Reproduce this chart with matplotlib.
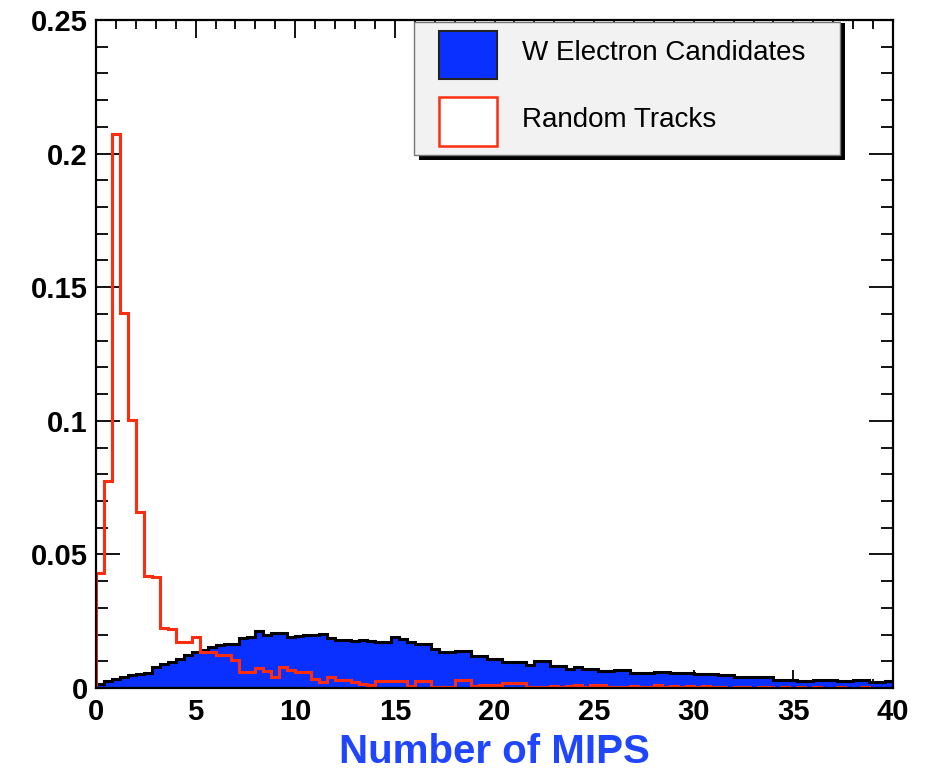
import numpy as np
import matplotlib
matplotlib.use("Agg")
import matplotlib.pyplot as plt
from matplotlib.patches import Rectangle
from matplotlib.ticker import MultipleLocator, FuncFormatter

plt.rcParams['font.family'] = ['Liberation Sans', 'DejaVu Sans']

# histogram binning: 100 bins of 0.4 MIPS from 0 to 40
bin_edges = np.linspace(0, 40, 101)

# W electron candidates (normalised counts per bin)
w_electrons = [
    0.0016, 0.0025, 0.0033, 0.0042, 0.0048, 0.0052, 0.0055, 0.0078, 0.0088, 0.0098,
    0.0108, 0.0122, 0.0136, 0.0142, 0.0152, 0.0160, 0.0164, 0.0166, 0.0188, 0.0192,
    0.0215, 0.0198, 0.0207, 0.0207, 0.0192, 0.0194, 0.0199, 0.0199, 0.0203, 0.0188,
    0.0180, 0.0178, 0.0175, 0.0178, 0.0175, 0.0174, 0.0174, 0.0192, 0.0183, 0.0174,
    0.0165, 0.0165, 0.0145, 0.0136, 0.0134, 0.0139, 0.0139, 0.0118, 0.0118, 0.0108,
    0.0108, 0.0099, 0.0099, 0.0096, 0.0086, 0.0101, 0.0101, 0.0083, 0.0083, 0.0070,
    0.0078, 0.0070, 0.0070, 0.0065, 0.0065, 0.0068, 0.0068, 0.0058, 0.0058, 0.0058,
    0.0061, 0.0061, 0.0055, 0.0058, 0.0058, 0.0052, 0.0052, 0.0052, 0.0049, 0.0049,
    0.0040, 0.0040, 0.0040, 0.0042, 0.0042, 0.0030, 0.0030, 0.0030, 0.0027, 0.0027,
    0.0030, 0.0030, 0.0029, 0.0026, 0.0026, 0.0030, 0.0030, 0.0022, 0.0024, 0.0027,
]

# random tracks (normalised counts per bin)
random_tracks = [
    0.0432, 0.0776, 0.2072, 0.1403, 0.1004, 0.0660, 0.0420, 0.0415, 0.0224, 0.0222,
    0.0174, 0.0172, 0.0192, 0.0136, 0.0134, 0.0124, 0.0122, 0.0105, 0.0061, 0.0061,
    0.0074, 0.0065, 0.0040, 0.0078, 0.0068, 0.0061, 0.0061, 0.0033, 0.0024, 0.0043,
    0.0030, 0.0030, 0.0024, 0.0014, 0.0010, 0.0028, 0.0028, 0.0028, 0.0027, 0.0008,
    0.0028, 0.0028, 0.0003, 0.0003, 0.0003, 0.0030, 0.0030, 0.0006, 0.0010, 0.0010,
    0.0010, 0.0017, 0.0017, 0.0017, 0.0003, 0.0003, 0.0003, 0.0008, 0.0003, 0.0008,
    0.0012, 0.0003, 0.0010, 0.0012, 0.0003, 0.0003, 0.0002, 0.0008, 0.0003, 0.0002,
    0.0010, 0.0003, 0.0008, 0.0002, 0.0008, 0.0002, 0.0006, 0.0002, 0.0002, 0.0000,
    0.0005, 0.0002, 0.0000, 0.0002, 0.0004, 0.0000, 0.0002, 0.0000, 0.0003, 0.0000,
    0.0002, 0.0000, 0.0000, 0.0003, 0.0000, 0.0000, 0.0002, 0.0000, 0.0000, 0.0000,
]

legend_labels = ['W Electron Candidates', 'Random Tracks']

blue = '#0a30ff'
red = '#ff2d10'

fig = plt.figure(figsize=(9.4, 7.77), dpi=100)
ax = fig.add_axes([96 / 940, 89 / 777, 797 / 940, 668 / 777])

ax.stairs(w_electrons, bin_edges, fill=True, color=blue, zorder=2)
ax.stairs(w_electrons, bin_edges, color='black', linewidth=2.2, zorder=3)
ax.stairs(random_tracks, bin_edges, color=red, linewidth=2.2, zorder=4)

ax.set_xlim(0, 40)
ax.set_ylim(0, 0.25)

ax.xaxis.set_major_locator(MultipleLocator(5))
ax.xaxis.set_minor_locator(MultipleLocator(1))
ax.yaxis.set_major_locator(MultipleLocator(0.05))
ax.yaxis.set_minor_locator(MultipleLocator(0.01))
ax.yaxis.set_major_formatter(FuncFormatter(lambda v, p: f'{v:g}'))

ax.tick_params(which='both', direction='in', top=True, right=True,
               width=1.3, colors='black')
ax.tick_params(axis='x', which='major', length=13, pad=7)
ax.tick_params(axis='x', which='minor', length=6.5)
ax.tick_params(axis='y', which='major', length=17, pad=6)
ax.tick_params(axis='y', which='minor', length=8.5)
for lbl in ax.get_xticklabels() + ax.get_yticklabels():
    lbl.set_fontsize(21)
    lbl.set_fontweight('bold')

for sp in ax.spines.values():
    sp.set_linewidth(1.6)
    sp.set_zorder(6)

ax.set_xlabel('Number of MIPS', fontsize=29, fontweight='bold',
              color='#1f45ff', labelpad=5)

# legend box with drop shadow, drawn in axes fraction
tr = ax.transAxes
ax.add_patch(Rectangle((0.405, 0.790), 0.535, 0.205, transform=tr,
                       facecolor='black', edgecolor='none', zorder=7, clip_on=False))
ax.add_patch(Rectangle((0.399, 0.798), 0.535, 0.199, transform=tr,
                       facecolor='#f2f2f2', edgecolor='#777777', linewidth=1.0,
                       zorder=8, clip_on=False))
ax.add_patch(Rectangle((0.430, 0.912), 0.073, 0.072, transform=tr,
                       facecolor=blue, edgecolor='#222222', linewidth=1.5, zorder=9))
ax.add_patch(Rectangle((0.430, 0.812), 0.073, 0.072, transform=tr,
                       facecolor='white', edgecolor=red, linewidth=1.8, zorder=9))
ax.text(0.5345, 0.950, legend_labels[0], transform=tr, fontsize=20,
        va='center', ha='left', zorder=10)
ax.text(0.5345, 0.850, legend_labels[1], transform=tr, fontsize=20,
        va='center', ha='left', zorder=10)

fig.savefig('out.png', dpi=100)
